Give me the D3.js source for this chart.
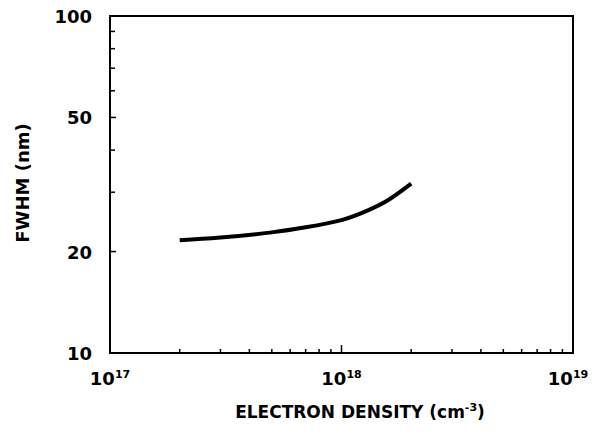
<!DOCTYPE html>
<html>
<head>
<meta charset="utf-8">
<script src="https://cdn.jsdelivr.net/npm/d3@7"></script>
<style>
  body { margin: 0; background: #fff; }
  text { font-family: "DejaVu Sans", sans-serif; font-weight: bold; fill: #000; }
</style>
</head>
<body>
<svg id="chart" width="599" height="434"></svg>
<script>
// electron density (cm^-3) vs FWHM (nm)
var density = [2e17, 3e17, 5e17, 7e17, 1e18, 1.3e18, 1.6e18, 2e18];
var fwhm = [21.6, 22.0, 22.8, 23.6, 24.8, 26.5, 28.5, 31.8];

var yTicks = [10, 20, 50, 100];
var yMinor = [30, 40, 60, 70, 80, 90];
var xTicks = [1e17, 1e18, 1e19];
var xExp = ["17", "18", "19"];
var xMinor = [2e17, 3e17, 4e17, 5e17, 6e17, 7e17, 8e17, 9e17,
              2e18, 3e18, 4e18, 5e18, 6e18, 7e18, 8e18, 9e18];

var svg = d3.select("#chart");
var pl = 110, pt = 16, pr = 573, pb = 353;

var x = d3.scaleLog().domain([1e17, 1e19]).range([pl, pr]);
var y = d3.scaleLog().domain([10, 100]).range([pb, pt]);

// frame
svg.append("rect")
    .attr("x", pl).attr("y", pt)
    .attr("width", pr - pl).attr("height", pb - pt)
    .attr("fill", "none").attr("stroke", "#000").attr("stroke-width", 2);

// left ticks (inward)
svg.selectAll(".ymin").data(yMinor).enter().append("line")
    .attr("x1", pl).attr("x2", pl + 5)
    .attr("y1", d => y(d)).attr("y2", d => y(d))
    .attr("stroke", "#000").attr("stroke-width", 1.5);
svg.selectAll(".ymaj").data([20, 50]).enter().append("line")
    .attr("x1", pl).attr("x2", pl + 6)
    .attr("y1", d => y(d)).attr("y2", d => y(d))
    .attr("stroke", "#000").attr("stroke-width", 1.5);

// bottom ticks (inward)
svg.selectAll(".xmin").data(xMinor).enter().append("line")
    .attr("x1", d => x(d)).attr("x2", d => x(d))
    .attr("y1", pb).attr("y2", pb - 4)
    .attr("stroke", "#000").attr("stroke-width", 1.5);
svg.append("line")
    .attr("x1", x(1e18)).attr("x2", x(1e18))
    .attr("y1", pb).attr("y2", pb - 8)
    .attr("stroke", "#000").attr("stroke-width", 1.5);

// y tick labels
svg.selectAll(".ylab").data(yTicks).enter().append("text")
    .attr("x", 92).attr("y", d => y(d) + 7)
    .attr("text-anchor", "end")
    .attr("font-size", 18)
    .text(d => d);

// x tick labels with superscripts
xTicks.forEach(function (d, i) {
    var t = svg.append("text")
        .attr("x", x(d) + (i == 2 ? -5 : 0)).attr("y", 385)
        .attr("text-anchor", "middle")
        .attr("font-size", 18);
    t.append("tspan").text("10");
    t.append("tspan").attr("font-size", 11).attr("dy", -7).text(xExp[i]);
});

// axis titles
var xt = svg.append("text")
    .attr("x", 360).attr("y", 418)
    .attr("text-anchor", "middle")
    .attr("font-size", 17);
xt.append("tspan").text("ELECTRON DENSITY (cm");
xt.append("tspan").attr("font-size", 11).attr("dy", -7).text("-3");
xt.append("tspan").attr("dy", 7).text(")");

svg.append("text")
    .attr("transform", "translate(29,183) rotate(-90)")
    .attr("text-anchor", "middle")
    .attr("font-size", 18)
    .text("FWHM (nm)");

// curve
var line = d3.line()
    .x((d, i) => x(density[i]))
    .y(d => y(d))
    .curve(d3.curveNatural);

svg.append("path")
    .datum(fwhm)
    .attr("d", line)
    .attr("fill", "none")
    .attr("stroke", "#000")
    .attr("stroke-width", 4);
</script>
</body>
</html>
